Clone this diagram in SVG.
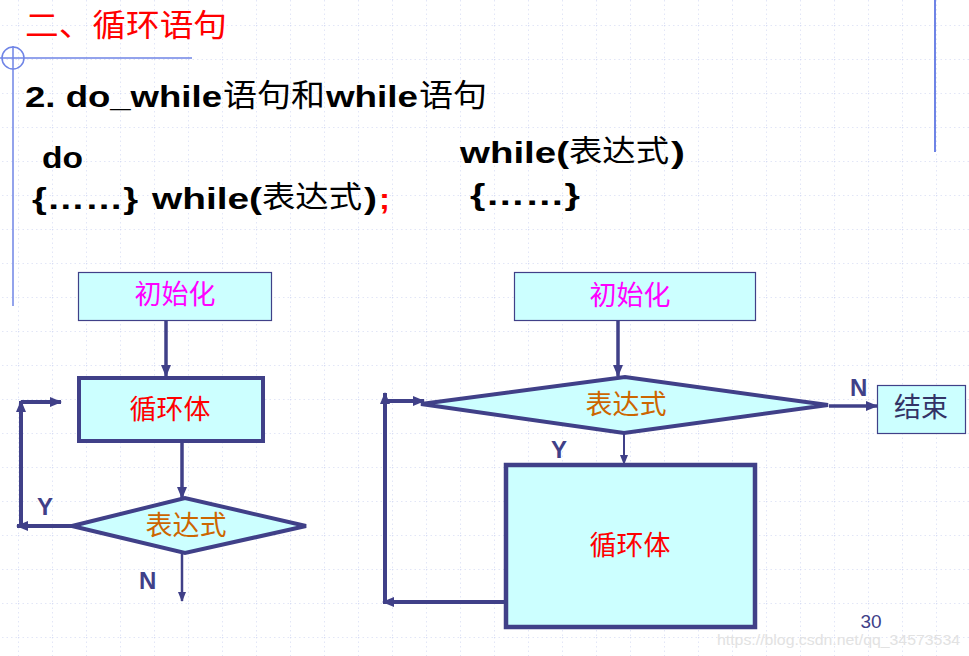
<svg xmlns="http://www.w3.org/2000/svg" width="969" height="656" viewBox="0 0 969 656">
<style>
.cjk{font-family:"Noto Sans CJK SC","Noto Sans CJK TC",sans-serif;}
.lat{font-family:"Liberation Sans","DejaVu Sans",sans-serif;font-weight:bold;}
.box{fill:#ccffff;stroke:#404088;}
.conn{fill:none;stroke:#404088;}
.lbl{font-family:"Liberation Sans",Arial,sans-serif;font-weight:bold;font-size:24px;fill:#404088;}
.node{font-size:27px;}
</style>
<defs>
<pattern id="grid" x="18" y="25" width="34" height="34" patternUnits="userSpaceOnUse">
<line x1="0" y1="0" x2="34" y2="0" stroke="#c6cef0" stroke-width="1" stroke-dasharray="1.5 3"/>
<line x1="0" y1="0" x2="0" y2="34" stroke="#c6cef0" stroke-width="1" stroke-dasharray="1.5 3"/>
</pattern>
<marker id="ah" viewBox="0 0 12 10" refX="11" refY="5" markerWidth="12" markerHeight="10" markerUnits="userSpaceOnUse" orient="auto">
<path d="M0,0 L12,5 L0,10 z" fill="#404088"/>
</marker>
<marker id="ahs" viewBox="0 0 10 8" refX="9" refY="4" markerWidth="10" markerHeight="8" markerUnits="userSpaceOnUse" orient="auto">
<path d="M0,0 L10,4 L0,8 z" fill="#404088"/>
</marker>
</defs>
<rect width="969" height="656" fill="#ffffff"/>
<rect width="969" height="656" fill="url(#grid)"/>
<g id="decor" stroke="#6f84e6" fill="none" stroke-width="1.5">
<circle cx="13" cy="58" r="11"/>
<line x1="0" y1="58" x2="192" y2="58"/>
<line x1="13" y1="46" x2="13" y2="306"/>
<line x1="935" y1="0" x2="935" y2="152" stroke-width="2"/>
</g>
<g id="title">
<text class="cjk" x="25" y="36" font-size="31" fill="#ff0000" textLength="202" lengthAdjust="spacingAndGlyphs">二、循环语句</text>
</g>
<g id="subtitle">
<text class="lat" x="25" y="107" font-size="30" fill="#000" textLength="197" lengthAdjust="spacingAndGlyphs">2. do_while</text>
<text class="cjk" x="223" y="106" font-size="31" fill="#000" textLength="102" lengthAdjust="spacingAndGlyphs">语句和</text>
<text class="lat" x="326" y="107" font-size="30" fill="#000" textLength="92" lengthAdjust="spacingAndGlyphs">while</text>
<text class="cjk" x="419" y="106" font-size="31" fill="#000" textLength="68" lengthAdjust="spacingAndGlyphs">语句</text>
</g>
<g id="code">
<text class="lat" x="42" y="168" font-size="29" fill="#000" textLength="41" lengthAdjust="spacingAndGlyphs">do</text>
<text class="lat" x="32" y="209" font-size="30" fill="#000" textLength="106" lengthAdjust="spacingAndGlyphs">{……}</text>
<text class="lat" x="152" y="209" font-size="30" fill="#000" textLength="110" lengthAdjust="spacingAndGlyphs">while(</text>
<text class="cjk" x="262" y="207" font-size="30" fill="#000" textLength="100" lengthAdjust="spacingAndGlyphs">表达式</text>
<text class="lat" x="364" y="209" font-size="30" fill="#000" textLength="13" lengthAdjust="spacingAndGlyphs">)</text>
<text class="lat" x="379" y="209" font-size="30" fill="#ff0000" textLength="11" lengthAdjust="spacingAndGlyphs">;</text>
<text class="lat" x="460" y="163" font-size="30" fill="#000" textLength="109" lengthAdjust="spacingAndGlyphs">while(</text>
<text class="cjk" x="569" y="161" font-size="30" fill="#000" textLength="100" lengthAdjust="spacingAndGlyphs">表达式</text>
<text class="lat" x="671" y="163" font-size="30" fill="#000" textLength="14" lengthAdjust="spacingAndGlyphs">)</text>
<text class="lat" x="470" y="205" font-size="30" fill="#000" textLength="110" lengthAdjust="spacingAndGlyphs">{……}</text>
</g>
<g id="connectors">
<path class="conn" d="M166,321 V376" stroke-width="3.5" marker-end="url(#ah)"/>
<path class="conn" d="M182,442 V498" stroke-width="3.5" marker-end="url(#ah)"/>
<path class="conn" d="M72,526 H17" stroke-width="4" marker-end="url(#ah)"/>
<path class="conn" d="M21,526 V401" stroke-width="4" marker-end="url(#ah)"/>
<path class="conn" d="M21,402 H61" stroke-width="4" marker-end="url(#ah)"/>
<path class="conn" d="M182,554 V601" stroke-width="2.5" marker-end="url(#ahs)"/>
<path class="conn" d="M618,321 V376" stroke-width="3.5" marker-end="url(#ah)"/>
<path class="conn" d="M624,434 V464" stroke-width="2" marker-end="url(#ahs)"/>
<path class="conn" d="M829,406 H877" stroke-width="3.5" marker-end="url(#ah)"/>
<path class="conn" d="M505,602 H383" stroke-width="4" marker-end="url(#ah)"/>
<path class="conn" d="M385,602 V393" stroke-width="4" marker-end="url(#ah)"/>
<path class="conn" d="M385,401 H424" stroke-width="4" marker-end="url(#ah)"/>
<text class="lbl" x="37" y="515">Y</text>
<text class="lbl" x="139" y="589">N</text>
<text class="lbl" x="551" y="458">Y</text>
<text class="lbl" x="850" y="396">N</text>
</g>
<g id="l-init">
<rect class="box" x="78.5" y="272.5" width="193" height="48" stroke-width="1.2"/>
<text class="cjk node" x="175" y="304" text-anchor="middle" fill="#ff00ff">初始化</text>
</g>
<g id="l-body">
<rect class="box" x="79" y="378" width="184" height="63" stroke-width="4"/>
<text class="cjk node" x="170" y="419" text-anchor="middle" fill="#ff0000">循环体</text>
</g>
<g id="l-cond">
<polygon class="box" points="72,526 185,498 306,526 185,553" stroke-width="4" stroke-linejoin="miter"/>
<text class="cjk node" x="186" y="535" text-anchor="middle" fill="#cc6600">表达式</text>
</g>
<g id="r-init">
<rect class="box" x="514.5" y="272.5" width="241" height="48" stroke-width="1.2"/>
<text class="cjk node" x="630" y="305" text-anchor="middle" fill="#ff00ff">初始化</text>
</g>
<g id="r-cond">
<polygon class="box" points="421,404 625,377 828,405 624,433" stroke-width="4"/>
<text class="cjk node" x="626" y="414" text-anchor="middle" fill="#cc6600">表达式</text>
</g>
<g id="r-end">
<rect class="box" x="877.5" y="385.5" width="88" height="48" stroke-width="1.2"/>
<text class="cjk node" x="921" y="417" text-anchor="middle" fill="#333366">结束</text>
</g>
<g id="r-body">
<rect class="box" x="506" y="465" width="249" height="162" stroke-width="4.5"/>
<text class="cjk node" x="630" y="555" text-anchor="middle" fill="#ff0000">循环体</text>
</g>
<g id="footer">
<text x="871" y="628" text-anchor="middle" font-family="'Liberation Sans',Arial,sans-serif" font-size="19" fill="#404088">30</text>
<text x="717" y="645" font-family="'Liberation Sans',Arial,sans-serif" font-size="15" fill="#e2e2e2" textLength="243" lengthAdjust="spacingAndGlyphs">https://blog.csdn.net/qq_34573534</text>
</g>
</svg>
